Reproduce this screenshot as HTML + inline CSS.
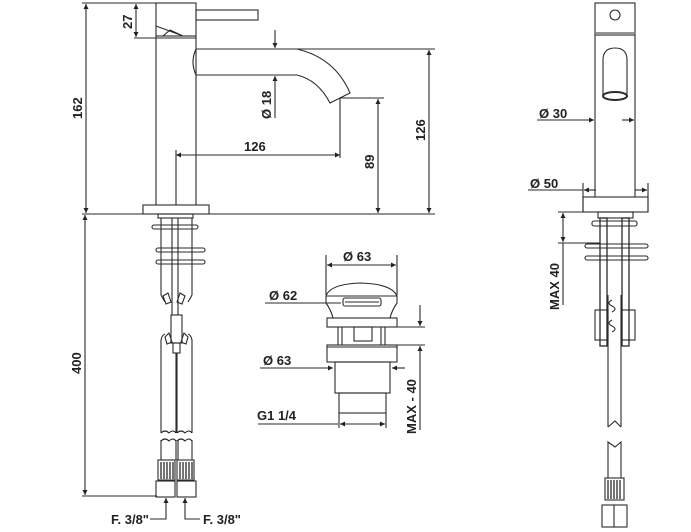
<!DOCTYPE html>
<html><head><meta charset="utf-8"><style>
html,body{margin:0;padding:0;background:#fff;}
svg{display:block;}
text{font-family:"Liberation Sans",sans-serif;font-weight:bold;font-size:13px;fill:#222;}
</style></head><body>
<svg width="691" height="532" viewBox="0 0 691 532" xmlns="http://www.w3.org/2000/svg">
<defs>
<marker id="a" viewBox="0 0 10 10" refX="10" refY="5" markerWidth="8" markerHeight="5" orient="auto-start-reverse" markerUnits="userSpaceOnUse"><path d="M0,0 L10,5 L0,10 z" fill="#222"/></marker>
</defs>
<g stroke="#2a2a2a" stroke-width="1.1" fill="none">
<line x1="82" y1="3" x2="156" y2="3"/>
<line x1="82" y1="214" x2="435" y2="214"/>
<line x1="134" y1="38" x2="196" y2="38"/>
<line x1="86" y1="4" x2="86" y2="213" marker-start="url(#a)" marker-end="url(#a)"/>
<line x1="136" y1="4" x2="136" y2="37" marker-start="url(#a)" marker-end="url(#a)"/>
<rect x="156" y="3" width="40" height="33"/>
<path d="M156,26 L183,36 M163,36 L170,30 L183,36"/>
<rect x="196" y="10" width="62" height="10"/>
<line x1="156" y1="36" x2="156" y2="205"/>
<line x1="196" y1="36" x2="196" y2="205"/>
<line x1="176" y1="150" x2="176" y2="205"/>
<rect x="143" y="205" width="66" height="9"/>
<path d="M196,49 L297,49 Q335,58 350,93 L330,103 Q318,80 297,75 L196,75"/>
<path d="M196,49 Q190,62 196,75"/>
<line x1="275" y1="30" x2="275" y2="48" marker-end="url(#a)"/>
<line x1="275" y1="118" x2="275" y2="76" marker-end="url(#a)"/>
<line x1="176" y1="155" x2="340" y2="155" marker-start="url(#a)" marker-end="url(#a)"/>
<line x1="340" y1="98" x2="340" y2="158"/>
<line x1="340" y1="98" x2="384" y2="98"/>
<line x1="378" y1="99" x2="378" y2="213" marker-start="url(#a)" marker-end="url(#a)"/>
<line x1="297" y1="49" x2="435" y2="49"/>
<line x1="429" y1="50" x2="429" y2="213" marker-start="url(#a)" marker-end="url(#a)"/>

<line x1="85" y1="215" x2="85" y2="495" marker-start="url(#a)" marker-end="url(#a)"/>
<line x1="82" y1="496" x2="157" y2="496"/>
<rect x="158" y="214" width="35" height="4"/>
<rect x="152" y="225" width="46" height="4" rx="2"/>
<rect x="156" y="248" width="49" height="4" rx="2"/>
<rect x="156" y="260" width="49" height="4" rx="2"/>
<line x1="161" y1="218" x2="161" y2="295"/>
<line x1="192" y1="218" x2="192" y2="295"/>
<line x1="172" y1="218" x2="172" y2="315"/>
<line x1="178" y1="218" x2="178" y2="315"/>
<path d="M161,295 Q163,299 165,302 M192,295 Q190,299 188,302"/>
<path d="M163,296 l5,-3 l3,9 l-5,2 z M185,296 l-5,-3 l-3,9 l5,2 z"/>
<rect x="171" y="315" width="11" height="28"/>
<rect x="173" y="343" width="7" height="10"/>
<path d="M165,337 l4,-4 l3,9 l-5,2 z M188,337 l-4,-4 l-3,9 l5,2 z"/>
<path d="M161,340 Q162,335 165,334 M192,340 Q191,335 188,334"/>
<line x1="161" y1="340" x2="161" y2="433"/>
<line x1="192" y1="340" x2="192" y2="433"/>
<line x1="177" y1="353" x2="177" y2="433"/>
<line x1="176" y1="353" x2="176" y2="433"/>
<path d="M161,433 q4,-4 8,0 q4,-4 7,0 M177,433 q4,-4 8,0 q4,-4 7,0"/>
<path d="M161,441 q4,-4 8,0 q4,-4 7,0 M177,441 q4,-4 8,0 q4,-4 7,0"/>
<line x1="161" y1="440" x2="161" y2="460"/><line x1="176" y1="440" x2="176" y2="460"/>
<line x1="178" y1="440" x2="178" y2="460"/><line x1="192" y1="440" x2="192" y2="460"/>
<rect x="158" y="460" width="17" height="20"/>
<rect x="177" y="460" width="17" height="20"/>
<path d="M161,462v17M164,462v17M167,462v17M170,462v17M173,462v17M180,462v17M183,462v17M186,462v17M189,462v17M192,462v17" stroke-width="1.3"/>
<rect x="156" y="481" width="19" height="16"/>
<rect x="177" y="481" width="19" height="16"/>
<path d="M150,519 L166,519 L166,498" marker-end="url(#a)"/>
<path d="M200,519 L185,519 L185,498" marker-end="url(#a)"/>

<line x1="326" y1="255" x2="326" y2="295"/>
<line x1="397" y1="255" x2="397" y2="295"/>
<line x1="327" y1="265" x2="396" y2="265" marker-start="url(#a)" marker-end="url(#a)"/>
<path d="M326,296 Q330,284 361,283 Q392,284 397,296 L397,303 Q392,310 390,318 M326,303 Q331,310 333,318 M326,296 L326,303 M326,296 L397,296"/>
<rect x="343" y="298" width="38" height="8" rx="2"/>
<line x1="345" y1="302" x2="379" y2="302"/>
<line x1="265" y1="303" x2="341" y2="303"/>
<rect x="327" y="318" width="70" height="9"/>
<line x1="338" y1="327" x2="338" y2="345"/><line x1="342" y1="327" x2="342" y2="345"/>
<line x1="381" y1="327" x2="381" y2="345"/><line x1="385" y1="327" x2="385" y2="345"/>
<rect x="354" y="327" width="18" height="14"/>
<rect x="327" y="345" width="70" height="17"/>
<line x1="327" y1="347" x2="397" y2="347"/>
<rect x="335" y="362" width="55" height="31"/>
<rect x="339" y="393" width="47" height="20"/>
<line x1="339" y1="413" x2="339" y2="428"/><line x1="386" y1="413" x2="386" y2="428"/>
<line x1="260" y1="368" x2="333" y2="368" marker-end="url(#a)"/>
<line x1="392" y1="368" x2="405" y2="368" marker-start="url(#a)"/>
<line x1="258" y1="424" x2="338" y2="424"/>
<line x1="340" y1="424" x2="385" y2="424" marker-start="url(#a)" marker-end="url(#a)"/>
<line x1="397" y1="327" x2="425" y2="327"/>
<line x1="397" y1="345" x2="425" y2="345"/>
<line x1="420" y1="305" x2="420" y2="326" marker-end="url(#a)"/>
<line x1="420" y1="430" x2="420" y2="346" marker-end="url(#a)"/>

<rect x="595" y="3" width="40" height="32"/>
<line x1="596" y1="33" x2="634" y2="33"/>
<circle cx="615" cy="15" r="5"/>
<line x1="595" y1="35" x2="595" y2="197"/>
<line x1="635" y1="35" x2="635" y2="197"/>
<path d="M603,95 L603,60 Q603,48 615,48 Q627,48 627,60 L627,95"/>
<ellipse cx="615" cy="96" rx="12" ry="4" stroke-width="2"/>
<line x1="537" y1="120" x2="594" y2="120" marker-end="url(#a)"/>
<line x1="622" y1="120" x2="634" y2="120" marker-end="url(#a)"/>
<line x1="583" y1="183" x2="583" y2="212"/>
<line x1="648" y1="183" x2="648" y2="212"/>
<line x1="528" y1="190" x2="583" y2="190"/>
<line x1="596" y1="190" x2="584" y2="190" marker-end="url(#a)"/>
<line x1="635" y1="190" x2="647" y2="190" marker-end="url(#a)"/>
<rect x="583" y="197" width="65" height="15"/>
<line x1="558" y1="212" x2="583" y2="212"/>
<line x1="558" y1="243" x2="600" y2="243"/>
<line x1="563" y1="213" x2="563" y2="242" marker-start="url(#a)" marker-end="url(#a)"/>
<line x1="563" y1="243" x2="563" y2="305"/>
<rect x="598" y="212" width="35" height="6"/>
<rect x="592" y="221" width="45" height="5" rx="2"/>
<rect x="585" y="244" width="63" height="4" rx="2"/>
<rect x="585" y="256" width="63" height="4" rx="2"/>
<rect x="600" y="218" width="7" height="128" stroke-width="1.3"/>
<rect x="622" y="218" width="7" height="128" stroke-width="1.3"/>
<rect x="595" y="310" width="13" height="30"/>
<rect x="622" y="310" width="13" height="30"/>
<path d="M612,300 q-6,3 0,6 q6,3 0,6 M612,320 q-6,3 0,6 q6,3 0,6"/>
<line x1="608" y1="295" x2="608" y2="427"/>
<line x1="621" y1="295" x2="621" y2="427"/>
<path d="M608,427 l7,-6 l6,6"/>
<path d="M608,447 l0,-5 l7,5 l6,-5 l0,5"/>
<line x1="608" y1="447" x2="608" y2="478"/>
<line x1="621" y1="447" x2="621" y2="478"/>
<rect x="605" y="478" width="19" height="22"/>
<path d="M608,480v19M611,480v19M614,480v19M617,480v19M620,480v19" stroke-width="1.3"/>
<rect x="602" y="505" width="25" height="22"/>
<line x1="614" y1="505" x2="614" y2="527"/>
</g>
<text transform="translate(82,119) rotate(-90)">162</text>
<text transform="translate(132,29) rotate(-90)">27</text>
<text transform="translate(271,119) rotate(-90)">Ø 18</text>
<text x="244" y="151">126</text>
<text transform="translate(374,169) rotate(-90)">89</text>
<text transform="translate(425,141) rotate(-90)">126</text>
<text transform="translate(81,374) rotate(-90)">400</text>
<text x="111" y="524">F. 3/8"</text>
<text x="203" y="524">F. 3/8"</text>
<text x="343" y="261">Ø 63</text>
<text x="269" y="300">Ø 62</text>
<text x="263" y="365">Ø 63</text>
<text x="257" y="420">G1 1/4</text>
<text transform="translate(416,434) rotate(-90)">MAX - 40</text>
<text x="539" y="118">Ø 30</text>
<text x="530" y="188">Ø 50</text>
<text transform="translate(559,310) rotate(-90)">MAX 40</text>
</svg>
</body></html>
